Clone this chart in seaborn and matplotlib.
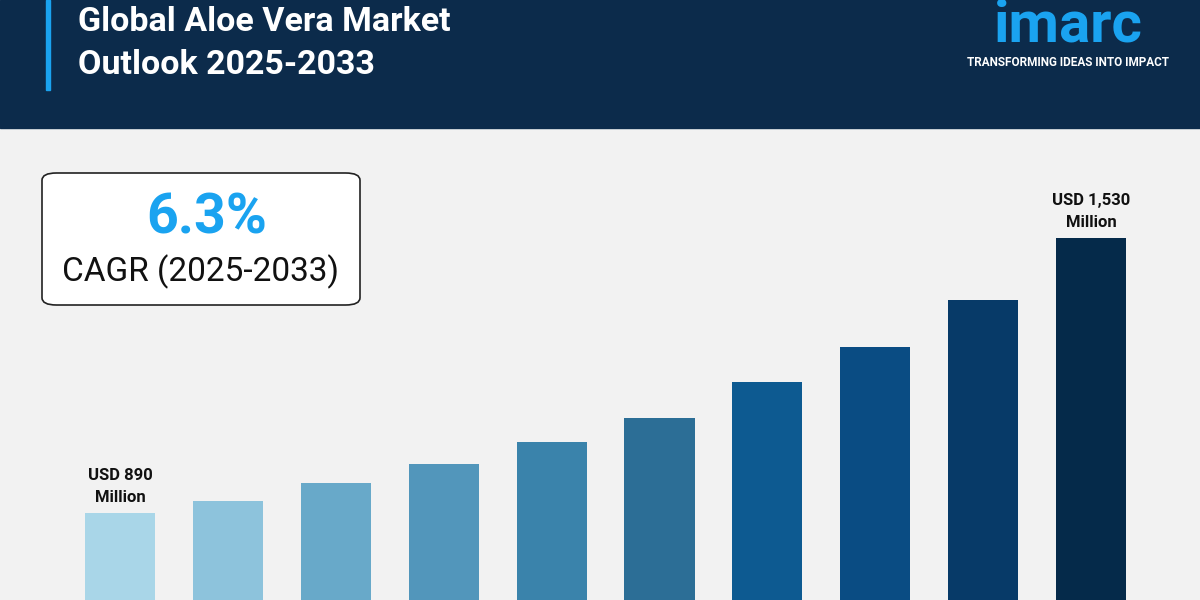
import matplotlib
matplotlib.use("Agg")
import matplotlib.pyplot as plt
import seaborn as sns
import pandas as pd
from matplotlib.patches import FancyBboxPatch, Rectangle

years = ["2024","2025","2026","2027","2028","2029","2030","2031","2032","2033"]
values = [890, 918, 960, 1004, 1055, 1111, 1195, 1276, 1386, 1530]
colors = ["#a9d6e8","#8dc3dc","#68a9c9","#5296bb","#3a83ab","#2c6e96","#0d5a91","#0a4c83","#073a68","#052a4a"]

sns.set_theme(style="white")
plt.rcParams['font.family'] = ['Roboto', 'DejaVu Sans']

fig = plt.figure(figsize=(12, 6), dpi=100)
fig.patch.set_facecolor("#f2f2f2")
# header
fig.patches.append(Rectangle((0, 1-128/600), 1, 128/600, transform=fig.transFigure, color="#0c2b4b", zorder=0))
fig.patches.append(Rectangle((46/1200, 1-90/600), 4/1200, 90/600, transform=fig.transFigure, color="#1aa3f0", zorder=1))
fig.text(78/1200, 1-22/600, "Global Aloe Vera Market", color="white", fontsize=24.5, fontweight="bold", va="center")
fig.text(78/1200, 1-65/600, "Outlook 2025-2033", color="white", fontsize=24.5, fontweight="bold", va="center")
fig.text(1068/1200, 1-26/600, "imarc", color="#1aa3f0", fontsize=42, fontweight="bold", va="center", ha="center")
fig.text(1068/1200, 1-62/600, "TRANSFORMING IDEAS INTO IMPACT", color="white", fontsize=8.5, fontweight="bold", va="center", ha="center")

ax = fig.add_axes([0, 0, 1, 470/600])
ax.set_facecolor("#f2f2f2")
df = pd.DataFrame({"year": years, "value": values})
sns.barplot(data=df, x="year", y="value", hue="year", palette=colors, legend=False, width=0.65, ax=ax,
            saturation=1, linewidth=0)
ax.set_xlim(-120/107.9, (1200-120)/107.9)
ax.set_ylim(687.5, 1781)
ax.axis("off")
ax.text(0, values[0] + 18, "USD 890\nMillion", ha="center", va="bottom", fontsize=12, fontweight="bold", color="#111", linespacing=1.6)
ax.text(9, values[-1] + 18, "USD 1,530\nMillion", ha="center", va="bottom", fontsize=12, fontweight="bold", color="#111", linespacing=1.6)

box = FancyBboxPatch((42/1200, 1-305/600), 318/1200, 132/600, boxstyle="round,pad=0,rounding_size=0.012",
                     transform=fig.transFigure, facecolor="white", edgecolor="#222", linewidth=1.2, zorder=2)
fig.patches.append(box)
fig.text(207/1200, 1-218/600, "6.3%", color="#1aa3f0", fontsize=40, fontweight="bold", ha="center", va="center", zorder=3)
fig.text(200/1200, 1-272/600, "CAGR (2025-2033)", color="#111", fontsize=24, ha="center", va="center", zorder=3)

fig.savefig("out.png", dpi=100, facecolor=fig.get_facecolor())
